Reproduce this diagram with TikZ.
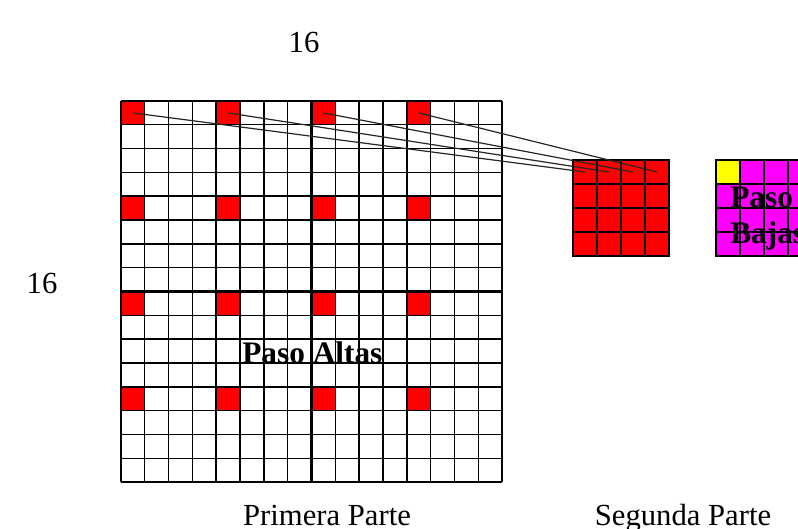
\documentclass[tikz,border=0pt]{standalone}
\usepackage{fontspec}
\setmainfont{Liberation Serif}
\definecolor{magrgb}{RGB}{255,0,255}
\definecolor{redrgb}{RGB}{255,0,0}
\definecolor{yelrgb}{RGB}{255,255,0}
\begin{document}
\begin{tikzpicture}[x=0.75pt,y=-0.75pt,
  thinline/.style={draw=black, line width=0.95pt},
  thickline/.style={draw=black, line width=1.7pt},
  bigred/.style={fill=redrgb, draw=none, minimum size=17.86pt, inner sep=0pt, outer sep=0pt, anchor=north west},
  smallcell/.style={draw=black, line width=0.9pt, minimum size=18pt, inner sep=0pt, outer sep=0pt},
  redcell/.style={smallcell, fill=redrgb},
  magcell/.style={smallcell, fill=magrgb},
  yelcell/.style={smallcell, fill=yelrgb},
  link/.style={draw=black!85, line width=0.9pt},
  plain/.style={font=\fontsize{23}{27}\selectfont, inner sep=0pt, anchor=base},
  boldlabel/.style={font=\bfseries\fontsize{23.5}{27}\selectfont, inner sep=0pt, anchor=base west, align=left}
]
\useasboundingbox (0,0) rectangle (798,528);
\clip (0,0) rectangle (798,528);
\fill[white] (0,0) rectangle (798,528);

% big grid red cells
\foreach \i in {0,1,2,3} {
  \foreach \j in {0,1,2,3} {
    \node[bigred] (b\i\j) at ({121+\i*95.25},{101+\j*95.25}) {};
  }
}
% big grid lines
\foreach \k in {0,...,16} {
  \draw[thinline] ({121+\k*23.8125},101) -- ({121+\k*23.8125},482);
  \draw[thinline] (121,{101+\k*23.8125}) -- (502,{101+\k*23.8125});
}
\foreach \k in {0,4,8,12,16} {
  \draw[thickline] ({121+\k*23.8125},101) -- ({121+\k*23.8125},482);
  \draw[thickline] (121,{101+\k*23.8125}) -- (502,{101+\k*23.8125});
}

% small red grid
\foreach \i in {0,1,2,3} {
  \foreach \j in {0,1,2,3} {
    \node[redcell] (s\i\j) at ({585+\i*24},{172+\j*24}) {};
  }
}
% magenta grid
\foreach \i in {0,1,2,3} {
  \foreach \j in {0,1,2,3} {
    \node[magcell] (m\i\j) at ({728+\i*24},{172+\j*24}) {};
  }
}
\node[yelcell] (y00) at (728,172) {};

% links
\foreach \i in {0,1,2,3} {
  \draw[link] (b\i0.center) -- (s\i0.center);
}

% labels
\node[boldlabel] (altas) at (242,363) {Paso Altas};
\node[boldlabel] (bajas) at (730,243) {Paso\\[-0.5pt]Bajas};
\node[plain] (top16) at (304,53) {16};
\node[plain] (left16) at (42,293) {16};
\node[plain] (prim) at (327,525) {Primera Parte};
\node[plain] (seg) at (683,525) {Segunda Parte};
\end{tikzpicture}
\end{document}
